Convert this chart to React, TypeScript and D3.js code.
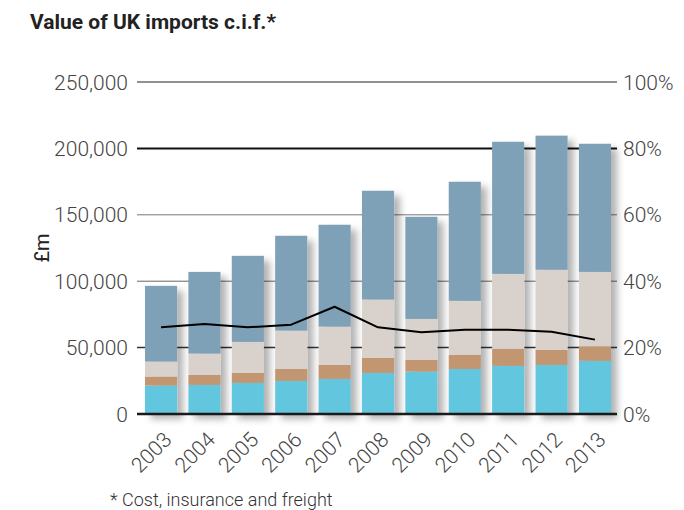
import React from 'react';
import * as d3 from 'd3';

// Value of UK imports c.i.f. (£m), stacked by component, plus share line (%)
const years = ['2003', '2004', '2005', '2006', '2007', '2008', '2009', '2010', '2011', '2012', '2013'];
const cyanSeries = [21400, 21900, 23400, 24900, 26400, 30900, 31900, 33900, 36200, 36900, 40000];
const tanSeries = [6800, 7500, 7500, 9000, 10500, 11300, 8800, 10600, 12800, 11300, 11000];
const beigeSeries = [11300, 16100, 23400, 28900, 28900, 44000, 30900, 40700, 56500, 60400, 56000];
const steelSeries = [57000, 61500, 64800, 71400, 76700, 81900, 76900, 89700, 99500, 101000, 96500];
const sharePct = [26.1, 27.1, 26.1, 26.9, 32.3, 26.1, 24.6, 25.4, 25.4, 24.8, 22.4];

const leftTicks = [0, 50000, 100000, 150000, 200000, 250000];
const rightTicks = [0, 20, 40, 60, 80, 100];

const seriesKeys = ['cyan', 'tan', 'beige', 'steel'];
const colors = { cyan: '#62c6de', tan: '#c39672', beige: '#d9d1cb', steel: '#7ea1b7' };

// gridline look, keyed by tick value
const gridStyle = {
  0: { stroke: '#1a1a1a', width: 2.5 },
  50000: { stroke: '#333', width: 1.5 },
  100000: { stroke: '#666', width: 1 },
  150000: { stroke: '#777', width: 1 },
  200000: { stroke: '#111', width: 2 },
  250000: { stroke: '#222', width: 1 },
};

const FONT = 'Roboto, "Noto Sans", sans-serif';

export default function App() {
  const W = 684;
  const H = 510;
  const plot = { left: 137, right: 617, top: 82, bottom: 414 };

  const rows = years.map((y, i) => ({
    year: y,
    cyan: cyanSeries[i],
    tan: tanSeries[i],
    beige: beigeSeries[i],
    steel: steelSeries[i],
  }));

  const x = d3.scaleBand().domain(years).range([145, 611]).paddingInner(0.26).paddingOuter(0);
  const y = d3.scaleLinear().domain([0, 250000]).range([plot.bottom, plot.top]);
  const yPct = d3.scaleLinear().domain([0, 100]).range([plot.bottom, plot.top]);

  const stacked = d3.stack().keys(seriesKeys)(rows);
  const fmt = d3.format(',');

  const line = d3
    .line()
    .x((_, i) => x(years[i]) + x.bandwidth() / 2)
    .y((d) => yPct(d));

  return (
    <svg
      width={W}
      height={H}
      style={{ position: 'absolute', left: 0, top: 0, background: '#fff' }}
      fontFamily={FONT}
    >
      <defs>
        <filter id="barShadow" x="-30%" y="-10%" width="170%" height="130%">
          <feDropShadow dx="6" dy="5" stdDeviation="3.5" floodColor="#000" floodOpacity="0.3" />
        </filter>
      </defs>

      <text x={30} y={29} fontSize={21} fontWeight={700} fill="#222">
        Value of UK imports c.i.f.*
      </text>

      {/* gridlines */}
      {leftTicks.filter((t) => t > 0).map((t) => (
        <line
          key={t}
          x1={plot.left}
          x2={plot.right}
          y1={y(t)}
          y2={y(t)}
          stroke={gridStyle[t].stroke}
          strokeWidth={gridStyle[t].width}
        />
      ))}

      {/* left axis labels */}
      {leftTicks.map((t) => (
        <text
          key={'l' + t}
          x={128}
          y={y(t)}
          dy="0.36em"
          textAnchor="end"
          fontSize={21}
          fontWeight={300}
          fill="#444"
        >
          {fmt(t)}
        </text>
      ))}

      {/* right axis labels */}
      {rightTicks.map((t) => (
        <text
          key={'r' + t}
          x={623}
          y={yPct(t)}
          dy="0.36em"
          textAnchor="start"
          fontSize={21}
          fontWeight={300}
          fill="#444"
        >
          {t + '%'}
        </text>
      ))}

      <text
        transform={`translate(42,${(plot.top + plot.bottom) / 2}) rotate(-90)`}
        textAnchor="middle"
        dy="0.36em"
        fontSize={20}
        fill="#222"
      >
        £m
      </text>

      {/* stacked bars */}
      <g filter="url(#barShadow)">
        {years.map((yr, i) => (
          <g key={yr}>
            {stacked.map((s) => (
              <rect
                key={s.key}
                x={x(yr)}
                width={x.bandwidth()}
                y={y(s[i][1])}
                height={y(s[i][0]) - y(s[i][1])}
                fill={colors[s.key]}
              />
            ))}
          </g>
        ))}
      </g>

      {/* zero baseline */}
      <line
        x1={plot.left}
        x2={plot.right}
        y1={y(0)}
        y2={y(0)}
        stroke={gridStyle[0].stroke}
        strokeWidth={gridStyle[0].width}
      />

      {/* share line */}
      <path d={line(sharePct)} fill="none" stroke="#000" strokeWidth={2} strokeLinejoin="round" />

      {/* year labels */}
      {years.map((yr) => {
        const cx = x(yr) + x.bandwidth() / 2 + 12;
        return (
          <text
            key={'y' + yr}
            transform={`translate(${cx},441) rotate(-45)`}
            textAnchor="end"
            fontSize={21}
            fontWeight={300}
            fill="#444"
          >
            {yr}
          </text>
        );
      })}

      <text x={110} y={506} fontSize={18} fontWeight={300} fill="#333">
        * Cost, insurance and freight
      </text>
    </svg>
  );
}
